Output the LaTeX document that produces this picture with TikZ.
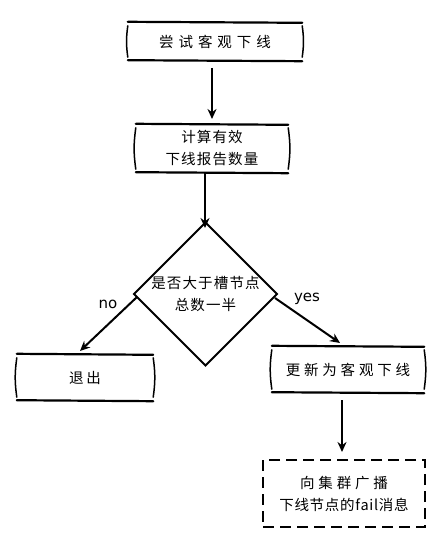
\documentclass[tikz,border=0pt]{standalone}
\usepackage{fontspec}
\newfontfamily\cjk{Noto Sans CJK SC}
\newfontfamily\lbl{DejaVu Sans}
\usetikzlibrary{shapes.geometric,arrows.meta}
\tikzset{
  txt/.style={font=\cjk\fontsize{14.5}{22}\selectfont, align=center, inner sep=0pt},
  boxa/.style={txt, draw=none},
  dia/.style={txt, diamond, draw, line width=2pt, aspect=1, inner sep=0pt},
  dashbox/.style={txt, draw, line width=2pt, dash pattern=on 11pt off 6pt},
  arr/.style={line width=2pt, -{Stealth[length=10pt,width=9pt]}},
  lab/.style={font=\lbl\fontsize{15}{17}\selectfont, inner sep=0pt}
}
\newcommand\skbox[1]{%
  \draw[line width=2.2pt, line cap=round] ([xshift=-1pt,yshift=1pt]#1.north west) -- ([xshift=1pt]#1.north east);
  \draw[line width=2.2pt, line cap=round] ([xshift=-1pt]#1.south west) -- ([xshift=1pt,yshift=-1pt]#1.south east);
  \draw[line width=1.5pt, line cap=round] ([xshift=-1pt,yshift=-3pt]#1.north west) to[bend right=8] ([xshift=-1pt,yshift=3pt]#1.south west);
  \draw[line width=1.5pt, line cap=round] ([xshift=1pt,yshift=-3pt]#1.north east) to[bend left=8] ([xshift=1pt,yshift=3pt]#1.south east);
}
\begin{document}
\begin{tikzpicture}[x=1pt,y=-1pt]
\useasboundingbox (0,0) rectangle (436,534);
\node[boxa, minimum width=172pt, minimum height=37pt] (b1) at (215,41.5) {\addfontfeature{LetterSpace=34}尝试客观下线};
\node[boxa, minimum width=150pt, minimum height=47pt] (b2) at (212,148.5) {\addfontfeature{LetterSpace=8}计算有效\\\addfontfeature{LetterSpace=8}下线报告数量};
\node[dia, minimum width=125pt, minimum height=125pt] (d) at (205.5,294) {\addfontfeature{LetterSpace=8}是否大于槽节点\\\addfontfeature{LetterSpace=8}总数一半};
\node[boxa, minimum width=134pt, minimum height=45pt] (ex) at (85,377.5) {\addfontfeature{LetterSpace=18}退出};
\node[boxa, minimum width=150pt, minimum height=45pt] (up) at (348,369.5) {\addfontfeature{LetterSpace=26}更新为客观下线};
\node[dashbox, minimum width=162pt, minimum height=67pt] (bc) at (344,493.5) {\fontsize{14.5}{25}\selectfont{\addfontfeature{LetterSpace=26}向集群广播}\\{\addfontfeature{LetterSpace=5}下线节点的fail消息}};
\skbox{b1}
\skbox{b2}
\skbox{ex}
\skbox{up}
\coordinate (n1) at (212,68);
\coordinate (n2) at (212,119);
\draw[arr] (n1) -- (n2);
\coordinate (m1) at (205,173);
\coordinate (m2) at (205,228);
\draw[arr] (m1) -- (m2);
\coordinate (p1) at (137,297);
\coordinate (p2) at (80,351);
\draw[arr] (p1) -- (p2);
\coordinate (q1) at (275,298);
\coordinate (q2) at (340,343);
\draw[arr] (q1) -- (q2);
\coordinate (r1) at (342,400);
\coordinate (r2) at (342,452);
\draw[arr] (r1) -- (r2);
\node[lab] (no) at (108,304) {no};
\node[lab] (yes) at (307,299) {yes};
\end{tikzpicture}
\end{document}
